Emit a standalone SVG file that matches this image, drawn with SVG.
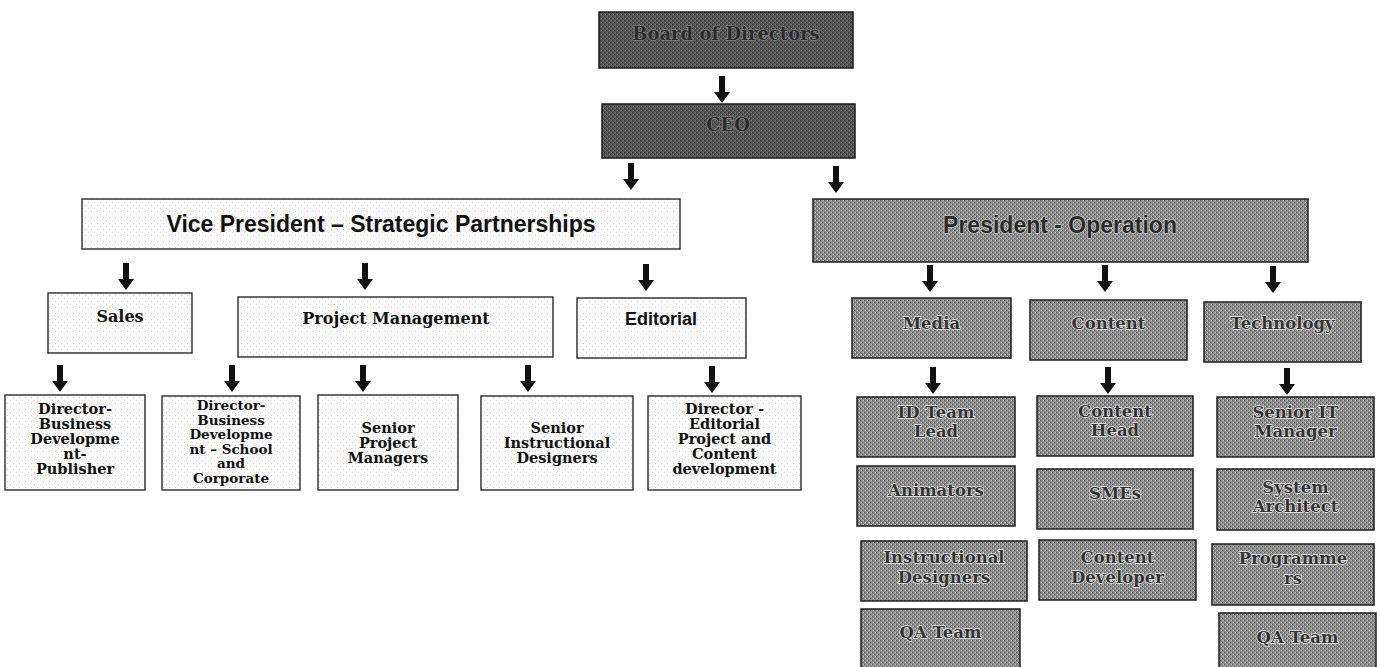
<svg xmlns="http://www.w3.org/2000/svg" xmlns:xlink="http://www.w3.org/1999/xlink" width="1380" height="667" viewBox="0 0 1380 667">
<defs>
<pattern id="pGray" width="4" height="4" patternUnits="userSpaceOnUse">
<rect width="4" height="4" fill="#8c8c8c"/>
<rect x="0" y="0" width="1" height="1" fill="#585858"/>
<rect x="2" y="2" width="1" height="1" fill="#585858"/>
<rect x="1" y="2" width="1" height="1" fill="#c6c6c6"/>
<rect x="3" y="0" width="1" height="1" fill="#c6c6c6"/>
</pattern>
<pattern id="pDark" width="4" height="4" patternUnits="userSpaceOnUse">
<rect width="4" height="4" fill="#545454"/>
<rect x="0" y="0" width="1" height="1" fill="#303030"/>
<rect x="2" y="2" width="1" height="1" fill="#303030"/>
<rect x="1" y="2" width="1" height="1" fill="#7c7c7c"/>
<rect x="3" y="0" width="1" height="1" fill="#7c7c7c"/>
</pattern>
<pattern id="pLight" width="6" height="6" patternUnits="userSpaceOnUse">
<rect width="6" height="6" fill="#fbfbfb"/>
<rect x="1" y="1" width="1" height="1" fill="#cfcfcf"/>
<rect x="4" y="4" width="1" height="1" fill="#dcdcdc"/>
</pattern>
<path id="arr" d="M-3,0 H3 V16 H8 L0,27 L-8,16 H-3 Z" fill="#111"/>
</defs>
<style>
.dark{fill:url(#pDark);stroke:#1a1a1a;stroke-width:1.5}
.gray{fill:url(#pGray);stroke:#1e1e1e;stroke-width:1.5}
.light{fill:url(#pLight);stroke:#2a2a2a;stroke-width:1.4}
.tdark{font-family:"DejaVu Serif",serif;font-weight:bold;font-size:18px;fill:#2c2c2c;stroke:#8e8e8e;stroke-width:1.2px;paint-order:stroke;text-anchor:middle}
.tsans{font-family:"Liberation Sans",Arial,sans-serif;font-weight:bold;font-size:23px;fill:#111;text-anchor:middle}
.tsansg{font-family:"Liberation Sans",Arial,sans-serif;font-weight:bold;font-size:23px;fill:#2a2a2a;stroke:#d8d8d8;stroke-width:1.2px;paint-order:stroke;text-anchor:middle}
.tmid{font-family:"DejaVu Serif",serif;font-weight:bold;font-size:16px;fill:#111;text-anchor:middle}
.tmids{font-family:"Liberation Sans",Arial,sans-serif;font-weight:bold;font-size:18px;fill:#111;text-anchor:middle}
.tbot{font-family:"DejaVu Serif",serif;font-weight:bold;font-size:14.5px;fill:#111;text-anchor:middle}
.tbot2{font-family:"DejaVu Serif",serif;font-weight:bold;font-size:13.5px;fill:#111;text-anchor:middle}
.temb{font-family:"DejaVu Serif",serif;font-weight:bold;font-size:16.5px;fill:#333;stroke:#ececec;stroke-width:1.3px;paint-order:stroke;text-anchor:middle}
</style>
<rect width="1380" height="667" fill="#ffffff"/>

<g id="connectors">
<use href="#arr" x="722" y="76"/>
<use href="#arr" x="631" y="163"/>
<use href="#arr" x="836" y="166"/>
<use href="#arr" x="126" y="263"/>
<use href="#arr" x="365" y="263"/>
<use href="#arr" x="646" y="264"/>
<use href="#arr" x="60" y="365"/>
<use href="#arr" x="232" y="365"/>
<use href="#arr" x="363" y="365"/>
<use href="#arr" x="528" y="365"/>
<use href="#arr" x="712" y="366"/>
<use href="#arr" x="930" y="265"/>
<use href="#arr" x="1105" y="265"/>
<use href="#arr" x="1273" y="266"/>
<use href="#arr" x="933" y="367"/>
<use href="#arr" x="1108" y="367"/>
<use href="#arr" x="1287" y="368"/>
</g>

<g id="board">
<rect class="dark" x="599" y="12" width="254" height="56"/>
<text class="tdark" x="726" y="40">Board of Directors</text>
</g>
<g id="ceo">
<rect class="dark" x="602" y="104" width="253" height="54"/>
<text class="tdark" x="728" y="131">CEO</text>
</g>
<g id="vp">
<rect class="light" x="82" y="199" width="598" height="50"/>
<text class="tsans" x="381" y="232">Vice President – Strategic Partnerships</text>
</g>
<g id="president">
<rect class="gray" x="813" y="199" width="495" height="63"/>
<text class="tsansg" x="1060" y="233">President - Operation</text>
</g>

<g id="sales">
<rect class="light" x="48" y="293" width="144" height="60"/>
<text class="tmid" x="120" y="322">Sales</text>
</g>
<g id="project-management">
<rect class="light" x="238" y="297" width="315" height="60"/>
<text class="tmid" x="396" y="324">Project Management</text>
</g>
<g id="editorial">
<rect class="light" x="577" y="298" width="169" height="60"/>
<text class="tmids" x="661" y="325">Editorial</text>
</g>

<g id="dir-bd-publisher">
<rect class="light" x="5" y="395" width="140" height="95"/>
<text class="tbot" x="75" y="414">Director-</text>
<text class="tbot" x="75" y="429">Business</text>
<text class="tbot" x="75" y="444">Developme</text>
<text class="tbot" x="75" y="459">nt-</text>
<text class="tbot" x="75" y="474">Publisher</text>
</g>
<g id="dir-bd-school">
<rect class="light" x="162" y="396" width="138" height="94"/>
<text class="tbot2" x="231" y="410">Director-</text>
<text class="tbot2" x="231" y="424.5">Business</text>
<text class="tbot2" x="231" y="439">Developme</text>
<text class="tbot2" x="231" y="453.5">nt – School</text>
<text class="tbot2" x="231" y="468">and</text>
<text class="tbot2" x="231" y="482.5">Corporate</text>
</g>
<g id="senior-pm">
<rect class="light" x="318" y="395" width="140" height="95"/>
<text class="tbot" x="388" y="433">Senior</text>
<text class="tbot" x="388" y="448">Project</text>
<text class="tbot" x="388" y="463">Managers</text>
</g>
<g id="senior-id">
<rect class="light" x="481" y="396" width="152" height="94"/>
<text class="tbot" x="557" y="433">Senior</text>
<text class="tbot" x="557" y="448">Instructional</text>
<text class="tbot" x="557" y="463">Designers</text>
</g>
<g id="dir-editorial">
<rect class="light" x="648" y="396" width="153" height="94"/>
<text class="tbot" x="724.5" y="414">Director -</text>
<text class="tbot" x="724.5" y="429">Editorial</text>
<text class="tbot" x="724.5" y="444">Project and</text>
<text class="tbot" x="724.5" y="459">Content</text>
<text class="tbot" x="724.5" y="474">development</text>
</g>

<g id="media">
<rect class="gray" x="852" y="298" width="159" height="60"/>
<text class="temb" x="931.5" y="329">Media</text>
</g>
<g id="content">
<rect class="gray" x="1030" y="300" width="157" height="60"/>
<text class="temb" x="1108.5" y="329">Content</text>
</g>
<g id="technology">
<rect class="gray" x="1204" y="302" width="157" height="60"/>
<text class="temb" x="1282.5" y="329">Technology</text>
</g>

<g id="id-team-lead">
<rect class="gray" x="857" y="397" width="158" height="60"/>
<text class="temb" x="936" y="418">ID Team</text>
<text class="temb" x="936" y="437">Lead</text>
</g>
<g id="content-head">
<rect class="gray" x="1037" y="396" width="156" height="60"/>
<text class="temb" x="1115" y="417">Content</text>
<text class="temb" x="1115" y="436">Head</text>
</g>
<g id="senior-it-manager">
<rect class="gray" x="1217" y="397" width="157" height="60"/>
<text class="temb" x="1295.5" y="418">Senior IT</text>
<text class="temb" x="1295.5" y="437">Manager</text>
</g>
<g id="animators">
<rect class="gray" x="857" y="466" width="158" height="60"/>
<text class="temb" x="936" y="496">Animators</text>
</g>
<g id="smes">
<rect class="gray" x="1037" y="469" width="156" height="60"/>
<text class="temb" x="1115" y="499">SMEs</text>
</g>
<g id="system-architect">
<rect class="gray" x="1217" y="469" width="157" height="61"/>
<text class="temb" x="1295.5" y="493">System</text>
<text class="temb" x="1295.5" y="512">Architect</text>
</g>
<g id="instructional-designers">
<rect class="gray" x="861" y="541" width="166" height="60"/>
<text class="temb" x="944" y="563">Instructional</text>
<text class="temb" x="944" y="583">Designers</text>
</g>
<g id="content-developer">
<rect class="gray" x="1039" y="540" width="157" height="60"/>
<text class="temb" x="1117.5" y="563">Content</text>
<text class="temb" x="1117.5" y="583">Developer</text>
</g>
<g id="programmers">
<rect class="gray" x="1212" y="544" width="162" height="61"/>
<text class="temb" x="1293" y="564">Programme</text>
<text class="temb" x="1293" y="584">rs</text>
</g>
<g id="qa-team-media">
<rect class="gray" x="861" y="609" width="159" height="62"/>
<text class="temb" x="940.5" y="638">QA Team</text>
</g>
<g id="qa-team-tech">
<rect class="gray" x="1219" y="613" width="157" height="58"/>
<text class="temb" x="1297.5" y="643">QA Team</text>
</g>
</svg>
